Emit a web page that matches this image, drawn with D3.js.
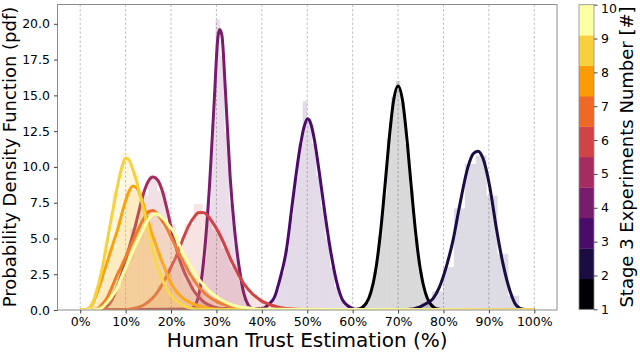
<!DOCTYPE html>
<html><head><meta charset="utf-8">
<script src="https://cdn.jsdelivr.net/npm/d3@7"></script>
<style>
body{margin:0;background:#fff}
svg{display:block}
text{font-family:"DejaVu Sans",sans-serif;fill:#000}
</style>
</head><body>
<svg id="chart" width="640" height="353"></svg>
<script>
// ---------------- data ----------------
const experiments = [1,2,3,4,5,6,7,8,9,10];
const colors = ["#000004","#1b0c41","#4a0c6b","#781c6d","#a52c60","#cf4446","#ed6925","#fb9b06","#f7d13d","#fcffa4"];
const xTicks = [0,10,20,30,40,50,60,70,80,90,100];
const yTicks = [0,2.5,5,7.5,10,12.5,15,17.5,20];
const cbTicks = [1,2,3,4,5,6,7,8,9,10];

// fitted pdf curves, [trust %, pdf]
const curve1 = [[60,0.02],[61,0.05],[62,0.16],[63,0.48],[64,1.21],[65,2.65],[66,5.03],[67,8.27],[68,11.8],[69,14.6],[70,15.65],[71,14.6],[72,11.8],[73,8.27],[74,5.03],[75,2.65],[76,1.21],[77,0.48],[78,0.16],[79,0.05],[80,0.02]];
const curve2 = [[72,0.03],[74.7,0.2],[76.2,0.45],[77.7,0.8],[79.1,1.6],[80.6,3.0],[82.1,4.87],[83.5,7.2],[85.4,10.0],[86.5,10.9],[87.6,11.1],[88.7,10.6],[90.2,8.6],[91.6,5.8],[93.1,3.24],[94.6,1.38],[96.0,0.33],[97.5,0.05],[99,0.01]];
const curve3 = [[40,0.1],[41.7,0.45],[42.8,0.91],[43.9,2.07],[45.4,4.17],[46.8,7.66],[48.3,11.15],[49.3,12.8],[50.1,13.37],[50.8,13.0],[51.6,11.85],[52.7,9.5],[53.8,6.96],[54.9,4.6],[56.4,2.07],[57.8,0.68],[59.7,0.15],[61,0.03]];
const curve4 = [[23.5,0.03],[24.5,0.1],[25.5,0.45],[26.5,1.7],[27.5,4.5],[28.5,8.8],[29.5,14.5],[30.3,19.0],[30.7,19.6],[31.2,19.2],[32,15.2],[33,9.4],[34,5.6],[35,3.0],[36,1.2],[37,0.35],[38,0.08],[39,0.02]];
const curve5 = [[4,0.02],[5,0.08],[6,0.28],[7,0.7],[8,1.5],[9,2.4],[10,3.5],[11,4.6],[12,5.7],[13,7.0],[14,8.2],[15,9.0],[16,9.3],[17,9.1],[18,8.4],[19,7.2],[20,5.8],[21,4.5],[22,3.4],[23,2.6],[24,1.95],[25,1.35],[26,0.95],[27,0.62],[28,0.4],[29,0.25],[31,0.1],[34,0.02]];
const curve6 = [[9,0.01],[12,0.12],[14,0.35],[16,0.85],[17,1.25],[18,1.75],[19,2.35],[20,3.0],[21,3.65],[22,4.45],[23,5.25],[24,5.95],[25,6.45],[26,6.8],[27,6.82],[28,6.62],[29,6.2],[30,5.7],[31,5.1],[32,4.4],[33,3.65],[34,3.0],[35,2.4],[36,1.85],[37,1.45],[38,1.1],[39,0.85],[40,0.62],[42,0.35],[45,0.12],[50,0.02]];
const curve7 = [[3.5,0.05],[5,0.45],[6,0.9],[7,1.6],[8,2.35],[9,3.0],[10,3.7],[11,4.4],[12,5.1],[13,5.8],[14,6.4],[15,6.85],[16,6.95],[17,6.7],[18,6.25],[19,5.75],[20,5.1],[21,4.45],[22,3.8],[23,3.2],[24,2.6],[25,2.1],[26,1.65],[27,1.3],[28,1.0],[30,0.6],[32,0.35],[34,0.2],[36,0.1],[40,0.02]];
const curve8 = [[1.5,0.05],[2.5,0.3],[3.5,1.0],[4.5,1.9],[5.5,2.9],[6.5,3.9],[7.5,4.9],[8.5,5.9],[9.5,7.1],[10.5,8.1],[11.6,8.66],[12.5,8.5],[13.5,7.8],[14.5,6.7],[15.5,5.6],[16.5,4.7],[17.5,3.8],[18.5,3.0],[19.5,2.2],[20.5,1.6],[22,1.0],[24,0.55],[26,0.3],[28,0.15],[31,0.05]];
const curve9 = [[1.5,0.0],[2.5,0.35],[3.5,1.2],[4.5,2.4],[5.5,4.0],[6.5,5.8],[7.5,7.5],[8.5,9.1],[9.5,10.3],[10,10.6],[10.7,10.5],[11.5,9.9],[12.5,8.9],[13.5,7.6],[14.5,6.3],[15.5,4.8],[16.5,3.6],[17.5,2.6],[18.5,1.8],[20,1.0],[22,0.45],[24,0.15],[27,0.03]];
const curve10 = [[3,0.02],[4.5,0.1],[5.7,0.45],[7,0.95],[8,1.45],[9,2.2],[10,2.95],[11,3.7],[12,4.4],[13,5.05],[14,5.7],[15,6.3],[16,6.65],[16.6,6.73],[17.5,6.6],[18.5,6.3],[19.5,5.9],[20.5,5.5],[21.5,4.8],[22.5,4.1],[23.5,3.5],[24.5,2.95],[25.5,2.4],[26.5,2.0],[27.5,1.65],[28.5,1.3],[30,0.95],[32,0.55],[34,0.3],[37,0.15],[40,0.05]];
const curves = [curve1,curve2,curve3,curve4,curve5,curve6,curve7,curve8,curve9,curve10];

// histogram bins: first edge (%), bin width (%), densities
const histStart = [61.5, 75.1, 42, 24.8, 5, 11, 4, 2, 1, 4];
const histWidth = [1, 2.4, 1, 1, 2, 2, 2, 2, 2, 2];
const hist1 = [0.2,0.5,1.3,2.7,5.2,8.0,12.0,14.9,16.0,14.5,11.6,8.4,5.0,2.7,1.2,0.5,0.2];
const hist2 = [0.5,1.3,3.0,7.1,10.2,10.8,8.0,3.9,1.0];
const hist3 = [0.7,1.4,2.6,4.3,6.6,9.2,11.6,14.6,13.4,11.6,9.4,7.2,5.0,3.0,1.6,0.8,0.3];
const hist4 = [0.3,1.2,3.6,7.5,13.0,20.3,17.8,12.4,7.4,4.6,2.2,0.8,0.2];
const hist5 = [0.4,1.5,3.4,5.7,8.0,9.4,8.3,6.0,3.7,2.1,1.1,0.5,0.2];
const hist6 = [0.1,0.4,0.9,1.8,3.0,4.6,6.0,7.4,6.6,5.6,4.3,3.0,1.9,1.1,0.6,0.3,0.15,0.05];
const hist7 = [0.5,1.4,2.8,4.2,5.8,7.0,6.7,5.8,4.5,3.3,2.2,1.3,0.8,0.5,0.3,0.15];
const hist8 = [0.6,2.3,4.3,6.4,8.4,8.3,6.1,4.2,2.6,1.4,0.8,0.4,0.2];
const hist9 = [0.1,1.5,4.8,8.4,11.0,9.6,7.3,4.6,2.5,1.2,0.5,0.2,0.05];
const hist10 = [0.3,0.9,2.1,3.5,4.9,6.1,6.9,6.1,5.2,3.9,2.8,1.9,1.2,0.7,0.4,0.25,0.1];
const hists = [hist1,hist2,hist3,hist4,hist5,hist6,hist7,hist8,hist9,hist10];

// ---------------- layout ----------------
const plot = {l:57.5, t:4.5, r:557, b:310};
const svg = d3.select("#chart");

const x = d3.scaleLinear().domain([-5, 105]).range([plot.l, plot.r]);
const y = d3.scaleLinear().domain([0, 21.35]).range([plot.b, plot.t]);

svg.append("defs").append("clipPath").attr("id","clip")
  .append("rect").attr("x",plot.l).attr("y",plot.t).attr("width",plot.r-plot.l).attr("height",plot.b-plot.t);

// grid
svg.append("g").selectAll("line").data(xTicks).join("line")
  .attr("x1",d=>x(d)).attr("x2",d=>x(d)).attr("y1",plot.t).attr("y2",plot.b)
  .attr("stroke","#b0b0b0").attr("stroke-width",0.8).attr("stroke-dasharray","2.5,2");

const g = svg.append("g").attr("clip-path","url(#clip)");
const line = d3.line().x(d=>x(d[0])).y(d=>y(d[1])).curve(d3.curveMonotoneX);

experiments.forEach((e,i)=>{
  const bins = hists[i].map((v,k)=>({x0:histStart[i]+k*histWidth[i], x1:histStart[i]+(k+1)*histWidth[i], v}));
  g.append("g").selectAll("rect").data(bins).join("rect")
    .attr("x",d=>x(d.x0)).attr("width",d=>x(d.x1)-x(d.x0))
    .attr("y",d=>y(d.v)).attr("height",d=>y(0)-y(d.v))
    .attr("fill",colors[i]).attr("fill-opacity",0.15);
  const pts = [[0,0]].concat(curves[i]).concat([[100,0]]);
  g.append("path").datum(pts).attr("d",line)
    .attr("fill","none").attr("stroke",colors[i]).attr("stroke-width",3)
    .attr("stroke-linejoin","round");
});

// spines
svg.append("rect").attr("x",plot.l).attr("y",plot.t).attr("width",plot.r-plot.l).attr("height",plot.b-plot.t)
  .attr("fill","none").attr("stroke","#8c8c8c").attr("stroke-width",1);

// axes
const xAxis = d3.axisBottom(x).tickValues(xTicks).tickFormat(d=>d+"%").tickSize(3.5).tickPadding(4);
const gx = svg.append("g").attr("transform",`translate(0,${plot.b})`).call(xAxis);
gx.select(".domain").remove();
gx.selectAll("line").attr("stroke","#444");
gx.selectAll("text").attr("font-size","12.5px").attr("font-family","DejaVu Sans").attr("fill","#000");

const yAxis = d3.axisLeft(y).tickValues(yTicks).tickFormat(d3.format(".1f")).tickSize(3.5).tickPadding(4);
const gy = svg.append("g").attr("transform",`translate(${plot.l},0)`).call(yAxis);
gy.select(".domain").remove();
gy.selectAll("line").attr("stroke","#444");
gy.selectAll("text").attr("font-size","12.5px").attr("font-family","DejaVu Sans").attr("fill","#000");

svg.append("text").attr("x",(plot.l+plot.r)/2).attr("y",347)
  .attr("text-anchor","middle").attr("font-size","20px").text("Human Trust Estimation (%)");
svg.append("text").attr("transform",`translate(16,157) rotate(-90)`)
  .attr("text-anchor","middle").attr("font-size","18px").text("Probability Density Function (pdf)");

// colorbar
const cb = {l:579, r:594, t:4.7, b:309.3};
const cy = d3.scaleLinear().domain([1,10]).range([cb.b, cb.t]);
const bandW = 9/colors.length;
svg.append("g").selectAll("rect").data(colors).join("rect")
  .attr("x",cb.l).attr("width",cb.r-cb.l)
  .attr("y",(c,k)=>cy(1+(k+1)*bandW)).attr("height",(c,k)=>cy(1+k*bandW)-cy(1+(k+1)*bandW)+0.3)
  .attr("fill",c=>c);
svg.append("rect").attr("x",cb.l).attr("y",cb.t).attr("width",cb.r-cb.l).attr("height",cb.b-cb.t)
  .attr("fill","none").attr("stroke","#8c8c8c").attr("stroke-width",0.8);
const cAxis = d3.axisRight(cy).tickValues(cbTicks).tickFormat(d3.format("d")).tickSize(3.5).tickPadding(3.5);
const gc = svg.append("g").attr("transform",`translate(${cb.r},0)`).call(cAxis);
gc.select(".domain").remove();
gc.selectAll("line").attr("stroke","#444");
gc.selectAll("text").attr("font-size","12.5px").attr("font-family","DejaVu Sans").attr("fill","#000")
  .attr("dy",d=>d===10?"0.6em":"0.32em");
svg.append("text").attr("transform",`translate(633,157) rotate(-90)`)
  .attr("text-anchor","middle").attr("font-size","18px").text("Stage 3 Experiments Number [#]");
</script>
</body></html>
